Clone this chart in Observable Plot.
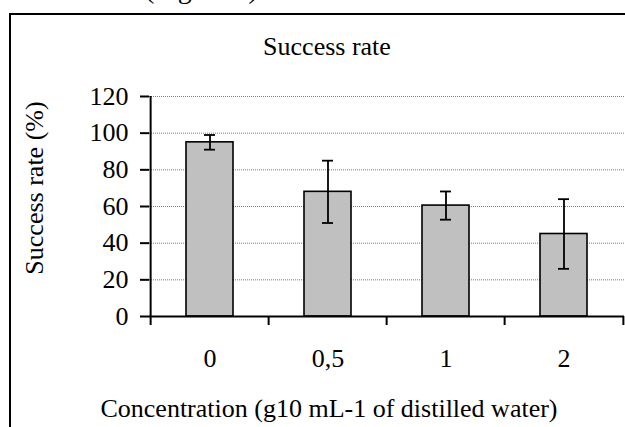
<!DOCTYPE html>
<html>
<head>
<meta charset="utf-8">
<script src="https://cdn.jsdelivr.net/npm/d3@7"></script>
<script src="https://cdn.jsdelivr.net/npm/@observablehq/plot@0.6"></script>
<style>
  html, body { margin: 0; padding: 0; background: #fff; }
  #wrap { position: relative; width: 625px; height: 427px; overflow: hidden; background: #fff;
          font-family: "Liberation Serif", "Times New Roman", serif; color: #000; }
  #frame { position: absolute; left: 9px; top: 13px; width: 700px; height: 500px;
           border: 2px solid #000; box-sizing: border-box; }
  #chart, #texts { position: absolute; left: 0; top: 0; }
  #texts text { font-family: "Liberation Serif", "Times New Roman", serif; fill: #000; }
</style>
</head>
<body>
<div id="wrap">
  <div id="frame"></div>
  <div id="chart"></div>
  <svg id="texts" width="625" height="427">
    <text x="145" y="-2" font-size="28">(Figure 2)</text>
    <text x="327" y="55" font-size="26" text-anchor="middle">Success rate</text>
    <text transform="translate(43,188) rotate(-90)" font-size="26" text-anchor="middle">Success rate (%)</text>
    <text x="329" y="417" font-size="26" text-anchor="middle">Concentration (g10 mL-1 of distilled water)</text>
  </svg>
</div>
<script>
// Data
const categories = ["0", "0,5", "1", "2"];
const successRate = [95, 68, 60.5, 45];
const errorBar = [4, 17, 7.7, 19];
const yTicks = [0, 20, 40, 60, 80, 100, 120];

const data = categories.map((c, i) => ({
  c, v: successRate[i], lo: successRate[i] - errorBar[i], hi: successRate[i] + errorBar[i]
}));

const W = 625, H = 427, ML = 149, MR = 1, MT = 96, MB = 111;
const step = (W - ML - MR) / categories.length;

const chart = Plot.plot({
  width: W, height: H,
  marginLeft: ML, marginRight: MR, marginTop: MT, marginBottom: MB,
  style: { fontFamily: "Liberation Serif, Times New Roman, serif", fontSize: "26px", background: "transparent", color: "#000" },
  x: { domain: categories, paddingInner: 0.6, paddingOuter: 0.3, axis: null },
  y: { domain: [0, 120], axis: null },
  marks: [
    Plot.gridY(yTicks.filter(t => t > 0), { stroke: "#7a7a7a", strokeOpacity: 1, strokeWidth: 1, strokeDasharray: "1,1" }),
    Plot.barY(data, { x: "c", y: "v", fill: "#c0c0c0", stroke: "#000", strokeWidth: 1.6 }),
    Plot.ruleX(data, { x: "c", y1: "lo", y2: "hi", stroke: "#000", strokeWidth: 1.8 }),
    Plot.tickY(data, { x: "c", y: "hi", stroke: "#000", strokeWidth: 1.8, insetLeft: 18, insetRight: 18 }),
    Plot.tickY(data, { x: "c", y: "lo", stroke: "#000", strokeWidth: 1.8, insetLeft: 18, insetRight: 18 }),
    // axes lines
    Plot.ruleY([0], { stroke: "#000", strokeWidth: 2 }),
    Plot.ruleX(categories.slice(0, 1), { x: d => d, dx: -step / 2, y1: 0, y2: 120, stroke: "#000", strokeWidth: 2 }),
    // y axis ticks and labels
    Plot.axisY({ ticks: yTicks, tickSize: 9, tickPadding: 12, label: null, strokeWidth: 2, fontSize: 26 }),
    // x boundary ticks
    Plot.axisX({ ticks: categories, tickSize: 9, tickFormat: () => "", label: null, dx: -step / 2, strokeWidth: 2 }),
    Plot.axisX({ ticks: categories.slice(-1), tickSize: 9, tickFormat: () => "", label: null, dx: step / 2, strokeWidth: 2 }),
    // x labels
    Plot.axisX({ ticks: categories, tickSize: 0, tickPadding: 32, label: null, fontSize: 26 })
  ]
});
document.getElementById("chart").appendChild(chart);
</script>
</body>
</html>
